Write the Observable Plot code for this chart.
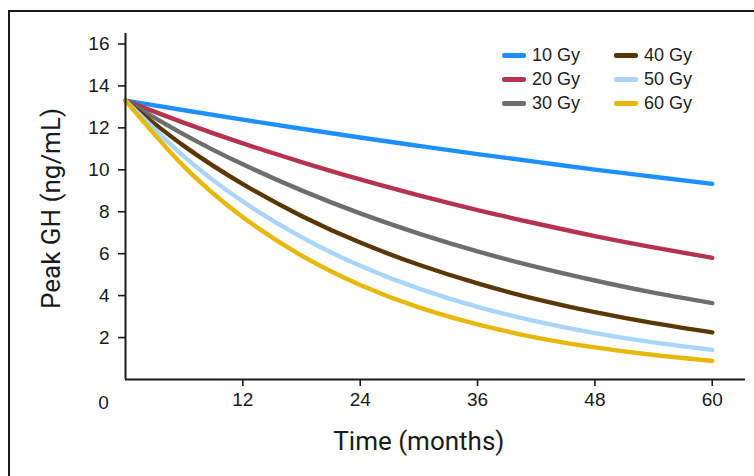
<!DOCTYPE html>
<html>
<head>
<meta charset="utf-8">
<script src="https://cdn.jsdelivr.net/npm/d3@7"></script>
<script src="https://cdn.jsdelivr.net/npm/@observablehq/plot@0.6"></script>
<style>
  html, body { margin: 0; padding: 0; background: #fff; }
  #wrap { position: relative; width: 754px; height: 476px; overflow: hidden; }
  #frame { position: absolute; left: 8px; top: 10px; width: 900px; height: 700px;
           border-top: 2px solid #1a1a1a; border-left: 2px solid #1a1a1a; pointer-events: none; z-index: 2; }
  #legend { position: absolute; left: 0; top: 0; z-index: 3; font-family: "Liberation Sans", Arial, sans-serif;
            font-size: 18px; color: #222; }
  .item { position: absolute; display: flex; align-items: center; height: 24px; white-space: nowrap; }
  .sw { width: 24px; height: 5px; border-radius: 2px; margin-right: 6px; }
</style>
</head>
<body>
<div id="wrap">
  <div id="chart"></div>
  <div id="frame"></div>
  <div id="legend"></div>
</div>
<script>
// ---- data ----
const months = [0, 6, 12, 18, 24, 30, 36, 42, 48, 54, 60];
const doses = ["10 Gy", "20 Gy", "30 Gy", "40 Gy", "50 Gy", "60 Gy"];
const gy10 = [13.3, 12.84, 12.39, 11.96, 11.54, 11.14, 10.75, 10.38, 10.01, 9.67, 9.33];
const gy20 = [13.3, 12.24, 11.26, 10.37, 9.54, 8.78, 8.08, 7.44, 6.84, 6.30, 5.80];
const gy30 = [13.3, 11.68, 10.26, 9.02, 7.92, 6.96, 6.11, 5.37, 4.72, 4.14, 3.64];
const gy40 = [13.3, 11.13, 9.32, 7.80, 6.53, 5.47, 4.58, 3.83, 3.21, 2.69, 2.25];
const gy50 = [13.3, 10.63, 8.49, 6.79, 5.42, 4.33, 3.46, 2.77, 2.21, 1.77, 1.41];
const gy60 = [13.3, 10.15, 7.74, 5.91, 4.51, 3.44, 2.63, 2.00, 1.53, 1.17, 0.89];
const series = [gy10, gy20, gy30, gy40, gy50, gy60];
const colors = ["#1E8FFF", "#B5334F", "#6E6E6E", "#5A3806", "#A8D5F8", "#E8B808"];
const yTicks = [2, 4, 6, 8, 10, 12, 14, 16];
const xTicks = [12, 24, 36, 48, 60];
const xTitle = "Time (months)";
const yTitle = "Peak GH (ng/mL)";

const data = [];
doses.forEach((d, i) => months.forEach((t, j) => data.push({dose: d, t, v: series[i][j]})));

const axisFont = "'Liberation Sans', Arial, sans-serif";
const titleFont = "Roboto, 'Liberation Sans', sans-serif";

const chart = Plot.plot({
  width: 754,
  height: 476,
  marginTop: 33,
  marginRight: 9,
  marginBottom: 97,
  marginLeft: 125,
  style: {background: "transparent", color: "#1a1a1a"},
  x: {domain: [0, 63.4]},
  y: {domain: [0, 16.5]},
  color: {domain: doses, range: colors},
  marks: [
    Plot.line(data, {x: "t", y: "v", z: "dose", stroke: "dose", strokeWidth: 4.4, curve: "natural", strokeLinecap: "round"}),
    Plot.ruleX([0], {stroke: "#1a1a1a", strokeWidth: 2}),
    Plot.ruleY([0], {stroke: "#1a1a1a", strokeWidth: 2}),
    Plot.axisY({ticks: yTicks, tickSize: 7, tickPadding: 9, fontSize: 19, fontFamily: axisFont, label: null, strokeWidth: 1.6, tickFormat: d => String(d)}),
    Plot.axisX({ticks: xTicks, tickSize: 7, tickPadding: 6, fontSize: 19, fontFamily: axisFont, label: null, strokeWidth: 1.6, tickFormat: d => String(d)}),
    Plot.text(["0"], {frameAnchor: "bottom-left", textAnchor: "middle", lineAnchor: "middle", dx: -22, dy: 23, fontSize: 19, fontFamily: axisFont, fill: "#1a1a1a"}),
    Plot.text([yTitle], {frameAnchor: "left", textAnchor: "middle", lineAnchor: "middle", dx: -74, dy: 2, rotate: -90, fontSize: 26, fontFamily: titleFont, fill: "#1a1a1a"}),
    Plot.text([xTitle], {x: months[months.length - 1] / 2, frameAnchor: "bottom", textAnchor: "middle", lineAnchor: "middle", dy: 62, fontSize: 26, fontFamily: titleFont, fill: "#1a1a1a"})
  ]
});
document.getElementById("chart").appendChild(chart);

// legend (HTML overlay)
const legend = document.getElementById("legend");
doses.forEach((d, i) => {
  const col = Math.floor(i / 3), row = i % 3;
  const el = document.createElement("div");
  el.className = "item";
  el.style.left = (502 + col * 112) + "px";
  el.style.top = (43 + row * 24) + "px";
  el.innerHTML = `<span class="sw" style="background:${colors[i]}"></span><span>${d}</span>`;
  legend.appendChild(el);
});
</script>
</body>
</html>
